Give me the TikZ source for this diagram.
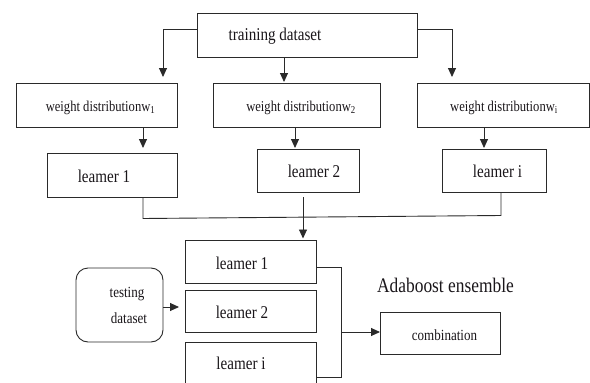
\documentclass[tikz,border=0pt]{standalone}
\usepackage{fontspec}
\usepackage{graphicx}
\setmainfont{Liberation Serif}
\usetikzlibrary{arrows.meta}
\definecolor{ln}{HTML}{2A2A2A}
\definecolor{tx}{HTML}{1A161A}
\newcommand{\cnd}[1]{\scalebox{0.84}[1]{#1}}
\tikzset{
  boxr/.style={draw=ln, line width=0.9pt, fill=white},
  conn/.style={draw=ln, line width=0.9pt},
  arr/.style={conn, -{Triangle[width=8pt,length=9pt]}},
  lbl/.style={inner sep=0pt, text=tx},
  fa/.style={lbl, font=\fontsize{18}{21}\selectfont},
  fb/.style={lbl, font=\fontsize{15}{18}\selectfont},
  fc/.style={lbl, font=\fontsize{15.5}{18}\selectfont},
  fd/.style={lbl, font=\fontsize{20.7}{24}\selectfont},
}
\begin{document}
\begin{tikzpicture}[x=1pt,y=-1pt]
\useasboundingbox (0,0) rectangle (590,383);
% boxes
\draw[boxr] (197,13) rectangle (417,57);
\draw[boxr] (16,83) rectangle (177,127);
\draw[boxr] (213,83) rectangle (380,127);
\draw[boxr] (417,83) rectangle (589,127);
\draw[boxr] (47,153) rectangle (177,197);
\draw[boxr] (257,149) rectangle (359,192);
\draw[boxr] (442,149) rectangle (546,192);
\draw[boxr] (185,240) rectangle (316,283);
\draw[boxr] (185,290) rectangle (316,332);
\draw[boxr] (185,342) rectangle (316,387);
\draw[boxr, rounded corners=12pt] (76,268) rectangle (163,342);
\draw[boxr] (380,312) rectangle (500,354);
% texts
\node[fa] (ttd) at (275,36) {\cnd{training dataset}};
\node[fb] (tw1) at (100.5,107.5) {\cnd{weight distributionw\textsubscript{1}}};
\node[fb] (tw2) at (301,107.5) {\cnd{weight distributionw\textsubscript{2}}};
\node[fb] (twi) at (504,107.5) {\cnd{weight distributionw\textsubscript{i}}};
\node[fa] (tl1) at (104,176) {\cnd{leamer 1}};
\node[fa] (tl2) at (314,171) {\cnd{leamer 2}};
\node[fa] (tli) at (497.5,171) {\cnd{leamer i}};
\node[fa] (tL1) at (242,263) {\cnd{leamer 1}};
\node[fa] (tL2) at (242,312) {\cnd{leamer 2}};
\node[fa] (tLi) at (241,363) {\cnd{leamer i}};
\node[fc] (tt1) at (127,294) {\cnd{testing}};
\node[fc] (tt2) at (129,318) {\cnd{dataset}};
\node[fc] (tcomb) at (444.5,335) {\cnd{combination}};
\node[fd] (tada) at (445.5,285) {\cnd{Adaboost ensemble}};
% connector points
\coordinate (a1s) at (197,29);  \coordinate (a1e) at (163,77);
\coordinate (a2s) at (284,57);  \coordinate (a2e) at (284,82);
\coordinate (a3s) at (417,29);  \coordinate (a3e) at (452,77);
\coordinate (b1s) at (143,127); \coordinate (b1e) at (143,148);
\coordinate (b2s) at (295,127); \coordinate (b2e) at (295,148);
\coordinate (b3s) at (484,127); \coordinate (b3e) at (484,148);
\coordinate (c1) at (143,197); \coordinate (c2) at (143,218.5);
\coordinate (c3) at (501,215.5); \coordinate (c4) at (501,192);
\coordinate (ds) at (303,197); \coordinate (de) at (303,238.5);
\coordinate (es) at (163,307); \coordinate (ee) at (179,307);
\coordinate (f1) at (316,267); \coordinate (f2) at (341,267);
\coordinate (f3) at (341,377); \coordinate (f4) at (316,377);
\coordinate (gs) at (341,332); \coordinate (ge) at (380,332);
% connectors
\draw[arr] (a1s) -| (a1e);
\draw[arr] (a2s) -- (a2e);
\draw[arr] (a3s) -| (a3e);
\draw[arr] (b1s) -- (b1e);
\draw[arr] (b2s) -- (b2e);
\draw[arr] (b3s) -- (b3e);
\draw[conn] (c1) -- (c2) -- (c3) -- (c4);
\draw[arr] (ds) -- (de);
\draw[arr] (es) -- (ee);
\draw[conn] (f1) -- (f2) -- (f3) -- (f4);
\draw[arr] (gs) -- (ge);
\end{tikzpicture}
\end{document}
